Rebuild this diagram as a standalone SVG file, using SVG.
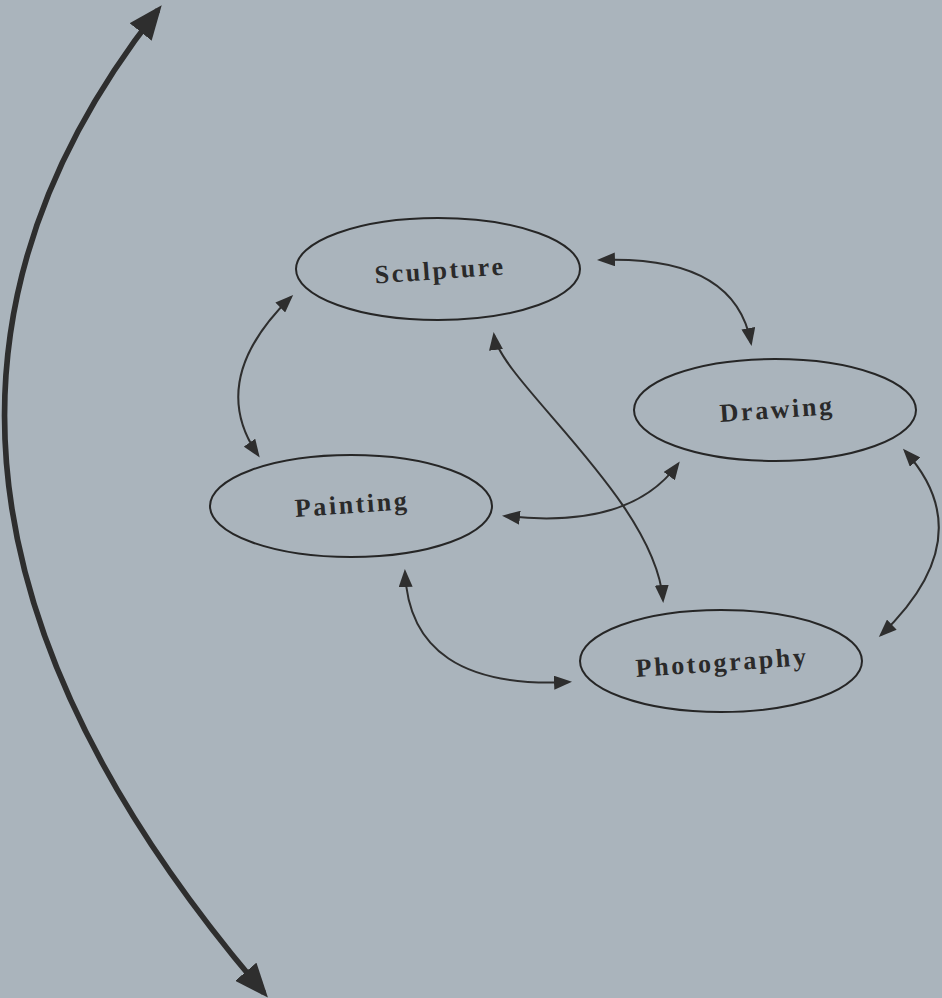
<svg xmlns="http://www.w3.org/2000/svg" width="942" height="998" viewBox="0 0 942 998">
<style>
.node ellipse{fill:none;stroke:#262626;stroke-width:2}
.node text{font-family:"Liberation Serif","DejaVu Serif",serif;font-weight:bold;font-size:26px;letter-spacing:2.6px;fill:#2a2a2a;text-anchor:middle}
.conn path{fill:none;stroke:#2e2e2e;stroke-width:2}
.conn path.big{stroke-width:5.5}
</style>
<defs>
<marker id="ah" markerUnits="userSpaceOnUse" markerWidth="18" markerHeight="14" viewBox="0 0 18 14" refX="15" refY="7" orient="auto-start-reverse">
<path d="M0,0 L18,7 L0,14 Z" fill="#2e2e2e"/>
</marker>
<marker id="bh" markerUnits="userSpaceOnUse" markerWidth="34" markerHeight="28" viewBox="0 0 34 28" refX="28" refY="14" orient="auto-start-reverse">
<path d="M0,0 L34,14 L0,28 Z" fill="#2e2e2e"/>
</marker>
</defs>
<rect width="942" height="998" fill="#aab4bc"/>
<g id="connectors" class="conn">
<path class="big" d="M158,10 Q -195,457 264,993" marker-start="url(#bh)" marker-end="url(#bh)"/>
<path d="M291,297 Q 206,380 258,455" marker-start="url(#ah)" marker-end="url(#ah)"/>
<path d="M600,260 Q 735,255 751,343" marker-start="url(#ah)" marker-end="url(#ah)"/>
<path d="M494,335 C 500,380 655,500 663,600" marker-start="url(#ah)" marker-end="url(#ah)"/>
<path d="M505,516 Q 630,530 678,464" marker-start="url(#ah)" marker-end="url(#ah)"/>
<path d="M405,572 Q 410,690 569,682" marker-start="url(#ah)" marker-end="url(#ah)"/>
<path d="M905,451 Q 983,537 881,635" marker-start="url(#ah)" marker-end="url(#ah)"/>
</g>
<g id="sculpture" class="node">
<ellipse cx="438" cy="269" rx="142" ry="51"/>
<text x="440" y="279" transform="rotate(-4 440 270)">Sculpture</text>
</g>
<g id="drawing" class="node">
<ellipse cx="775" cy="410" rx="141" ry="51"/>
<text x="777" y="418" transform="rotate(-4 777 409)">Drawing</text>
</g>
<g id="painting" class="node">
<ellipse cx="351" cy="506" rx="141" ry="51"/>
<text x="352" y="513" transform="rotate(-4 352 504)">Painting</text>
</g>
<g id="photography" class="node">
<ellipse cx="721" cy="661" rx="141" ry="51"/>
<text x="722" y="671" transform="rotate(-4 722 662)">Photography</text>
</g>
</svg>
